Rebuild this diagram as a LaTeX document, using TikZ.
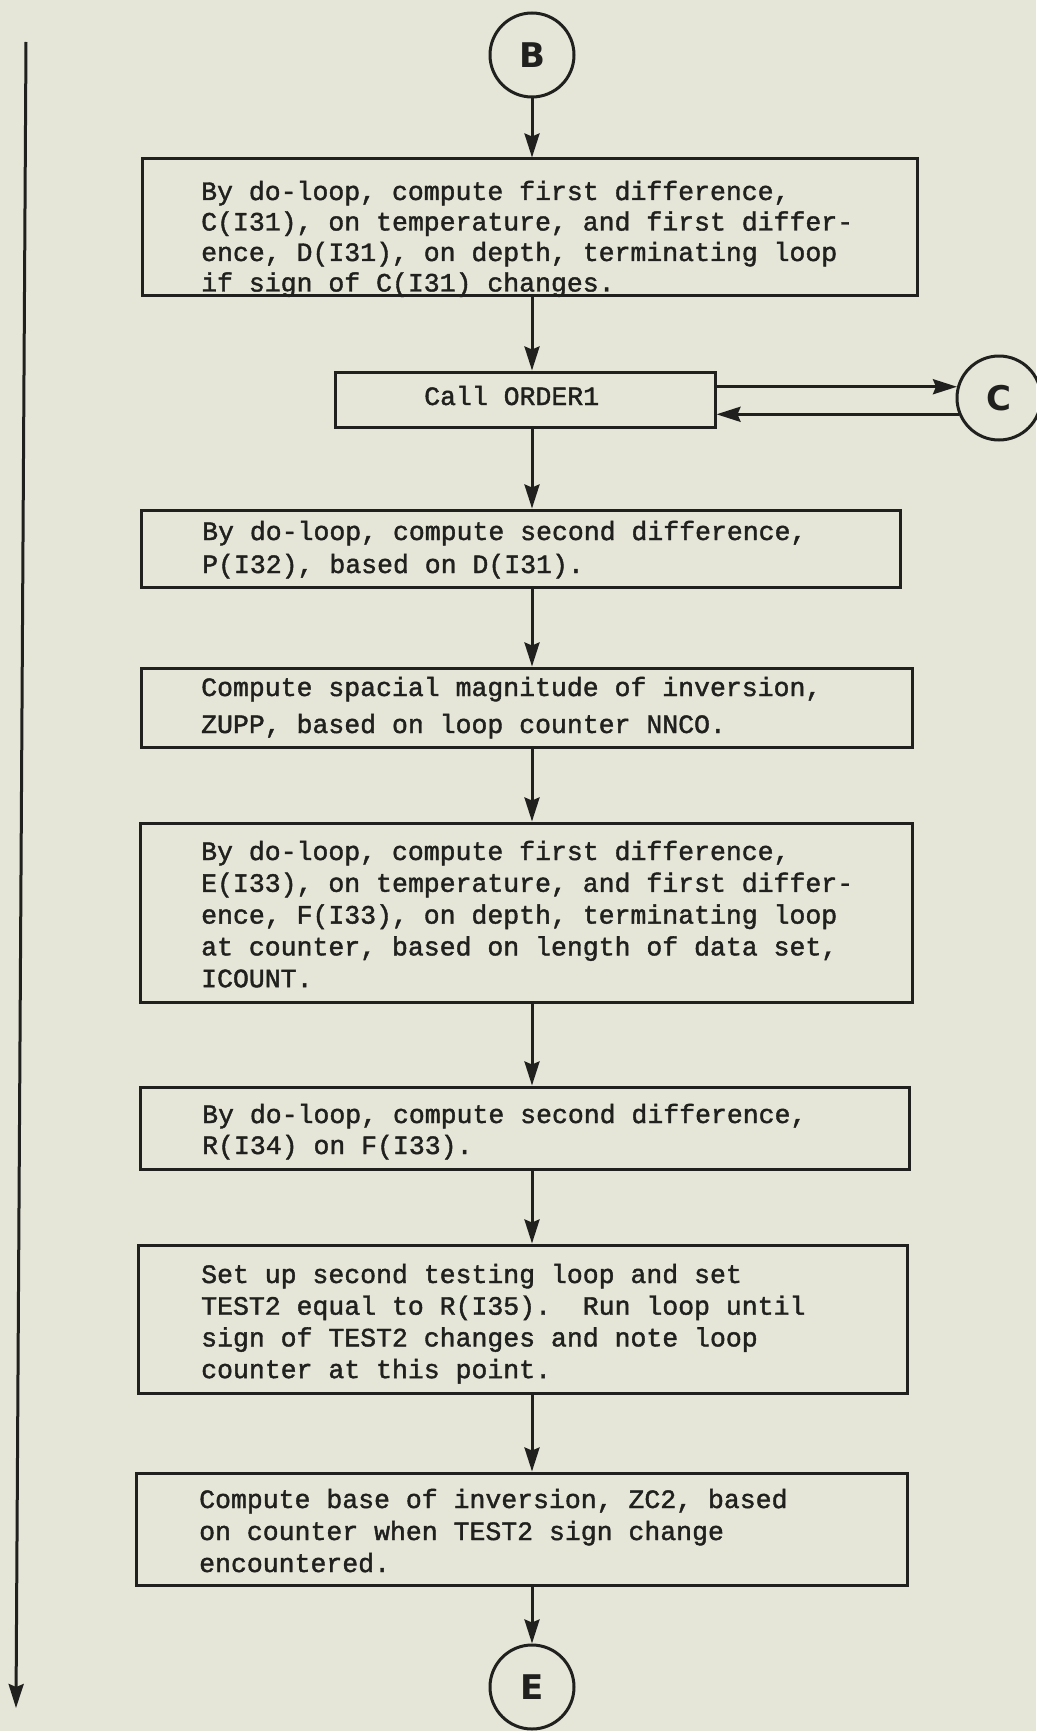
\documentclass[tikz,border=0pt]{standalone}
\usepackage{fontspec}
\setmainfont{Liberation Mono}[FakeBold=1.5]
\newfontfamily\circfont{DejaVu Sans}
\usetikzlibrary{arrows.meta}
\definecolor{paper}{RGB}{229,229,216}
\definecolor{ink}{RGB}{32,32,30}
\tikzset{
  proc/.style={draw=ink, line width=3pt, rectangle, inner sep=0pt},
  conn/.style={draw=ink, line width=3pt, circle, inner sep=0pt, minimum size=84pt,
    font=\circfont\bfseries\fontsize{34pt}{34pt}\selectfont, text=ink},
  flow/.style={draw=ink, line width=3pt, -{Stealth[length=24pt,width=15pt,inset=3pt]}},
  txt/.style={anchor=base west, inner sep=0pt, text=ink},
}
% left-aligned block of typed lines; #1 = line spacing
\newcommand{\boxlines}[2]{\parbox[t]{760pt}{\raggedright\fontsize{26.5pt}{#1}\selectfont\frenchspacing #2}}
\begin{document}
\begin{tikzpicture}[x=1pt, y=-1pt]
\fill[paper] (0,0) rectangle (1036,1731);
\useasboundingbox (0,0) rectangle (1036,1731);

% off-page connectors
\node[conn] (B) at (532,55) {B};
\node[conn] (C) at (999,398) {C};
\node[conn] (E) at (532,1687) {E};

% text of the process boxes
\node[txt] (t1) at (201,200) {\boxlines{30.5pt}{By do-loop, compute first difference,\\
C(I31), on temperature, and first differ-\\
ence, D(I31), on depth, terminating loop\\
if sign of C(I31) changes.}};
\node[txt] (t2) at (424,405) {\boxlines{31pt}{Call ORDER1}};
\node[txt] (t3) at (202,540) {\boxlines{33pt}{By do-loop, compute second difference,\\
P(I32), based on D(I31).}};
\node[txt] (t4) at (201,696) {\boxlines{37pt}{Compute spacial magnitude of inversion,\\
ZUPP, based on loop counter NNCO.}};
\node[txt] (t5) at (201,860) {\boxlines{31.8pt}{By do-loop, compute first difference,\\
E(I33), on temperature, and first differ-\\
ence, F(I33), on depth, terminating loop\\
at counter, based on length of data set,\\
ICOUNT.}};
\node[txt] (t6) at (202,1123) {\boxlines{31pt}{By do-loop, compute second difference,\\
R(I34) on F(I33).}};
\node[txt] (t7) at (201,1283) {\boxlines{31.7pt}{Set up second testing loop and set\\
TEST2 equal to R(I35).\ \ Run loop until\\
sign of TEST2 changes and note loop\\
counter at this point.}};
\node[txt] (t8) at (199,1508) {\boxlines{32pt}{Compute base of inversion, ZC2, based\\
on counter when TEST2 sign change\\
encountered.}};

% process boxes
\node[proc, minimum width=775pt, minimum height=136pt] (box1) at (529.5,227) {};
\node[proc, minimum width=380pt, minimum height=55pt]  (box2) at (525,399.5) {};
\node[proc, minimum width=759pt, minimum height=77pt]  (box3) at (520.5,548.5) {};
\node[proc, minimum width=771pt, minimum height=79pt]  (box4) at (526.5,707.5) {};
\node[proc, minimum width=772pt, minimum height=179pt] (box5) at (526,912.5) {};
\node[proc, minimum width=769pt, minimum height=82pt]  (box6) at (524.5,1128) {};
\node[proc, minimum width=769pt, minimum height=148pt] (box7) at (522.5,1319) {};
\node[proc, minimum width=771pt, minimum height=112pt] (box8) at (521.5,1529) {};

% main flow
\draw[flow] (B.south) -- (B.south |- box1.north);
\draw[flow] (box1.south -| B) -- (box2.north -| B);
\draw[flow] (box2.south -| B) -- (box3.north -| B);
\draw[flow] (box3.south -| B) -- (box4.north -| B);
\draw[flow] (box4.south -| B) -- (box5.north -| B);
\draw[flow] (box5.south -| B) -- (box6.north -| B);
\draw[flow] (box6.south -| B) -- (box7.north -| B);
\draw[flow] (box7.south -| B) -- (box8.north -| B);
\draw[flow] (box8.south -| E) -- (E.north);

% call to and return from ORDER1
\draw[flow] (box2.east |- C.165) -- (C.165);
\draw[flow] (C.202) -- (C.202 -| box2.east);

% bypass line on the left
\coordinate (lt) at (26,42);
\coordinate (lb) at (16,1708);
\draw[flow] (lt) -- (lb);
\end{tikzpicture}
\end{document}
